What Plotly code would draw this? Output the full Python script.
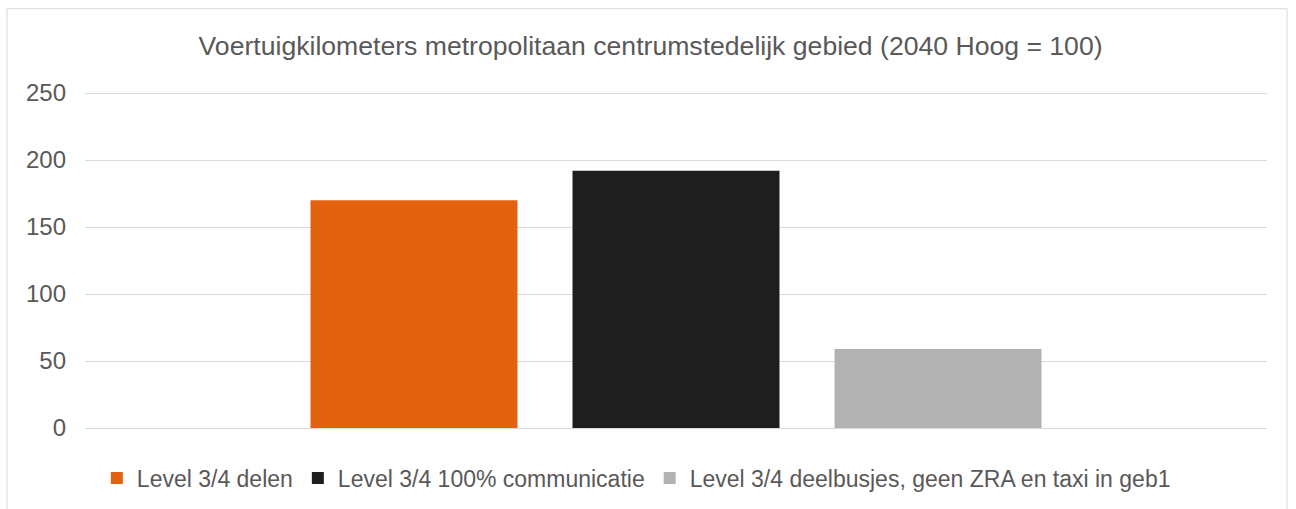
import plotly.graph_objects as go

title = "Voertuigkilometers metropolitaan centrumstedelijk gebied (2040 Hoog = 100)"
category = [""]
series_names = [
    "Level 3/4 delen",
    "Level 3/4 100% communicatie",
    "Level 3/4 deelbusjes, geen ZRA en taxi in geb1",
]
series_values = [[170], [192], [59]]
series_colors = ["#E4610F", "#1E1E1E", "#B2B2B2"]
y_ticks = [0, 50, 100, 150, 200, 250]

text_color = "#595959"
grid_color = "#D9D9D9"
font_family = "Arial, Liberation Sans, sans-serif"

fig = go.Figure()
for name, vals, color in zip(series_names, series_values, series_colors):
    fig.add_trace(go.Bar(
        x=category,
        y=vals,
        name=name,
        marker=dict(color=color, line=dict(width=0)),
        hoverinfo='y'
    ))

fig.update_layout(
    width=1296,
    height=509,
    barmode='group',
    bargap=0.335,
    bargroupgap=0.21,
    plot_bgcolor='white',
    paper_bgcolor='white',
    margin=dict(l=85, r=29, t=92, b=81),
    font=dict(family=font_family, color=text_color, size=23),
    title=dict(
        text=title,
        x=0.502,
        xanchor='center',
        xref='container',
        y=1 - 46 / 509,
        yanchor='middle',
        yref='container',
        font=dict(size=26.6, color=text_color, family=font_family)
    ),
    showlegend=True,
    legend=dict(
        orientation='h',
        x=0.491,
        xanchor='center',
        xref='container',
        y=1 - 478 / 509,
        yanchor='middle',
        yref='container',
        font=dict(size=23, color=text_color),
        bgcolor='rgba(0,0,0,0)'
    ),
    xaxis=dict(
        showticklabels=False,
        showgrid=False,
        zeroline=False,
        showline=False,
        ticks=''
    ),
    yaxis=dict(
        range=[0, 250.8],
        tickvals=y_ticks,
        showgrid=True,
        gridcolor=grid_color,
        gridwidth=1,
        zeroline=True,
        zerolinecolor=grid_color,
        zerolinewidth=1,
        showline=False,
        ticks='',
        ticklabelstandoff=18,
        tickfont=dict(size=24, color=text_color)
    ),
    shapes=[dict(
        type='rect',
        xref='paper', yref='paper',
        x0=(7 - 85) / 1182, x1=(1287 - 85) / 1182,
        y0=(428 - 530) / 336, y1=(428 - 8.7) / 336,
        line=dict(color=grid_color, width=1),
        fillcolor='rgba(0,0,0,0)',
        layer='below'
    )]
)

fig.write_html("out.html", config={'displayModeBar': False},
               post_script="document.body.style.margin='0px';")
